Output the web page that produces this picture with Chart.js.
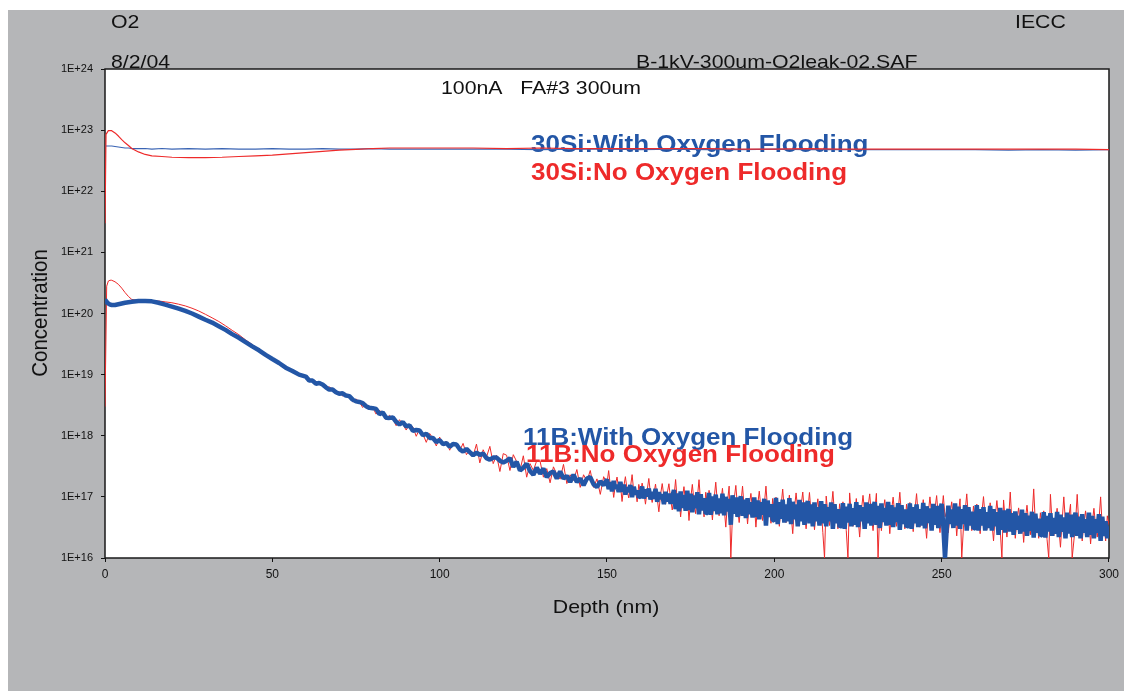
<!DOCTYPE html>
<html>
<head>
<meta charset="utf-8">
<script src="https://cdn.jsdelivr.net/npm/chart.js@4.4.1/dist/chart.umd.min.js"></script>
<style>
html,body{margin:0;padding:0;background:#ffffff;}
canvas{display:block;}
</style>
</head>
<body>
<canvas id="c" width="1124" height="691"></canvas>
<script>
// ---------- DATA ----------
const depthSi = [0, 0.3, 1, 2, 3, 4, 5, 6, 7, 8, 10, 12, 14, 17, 20, 25, 30, 35, 40, 45, 50, 55, 60, 65, 70, 75, 80, 85, 90, 100,
  110, 120, 130, 140, 150, 160, 170, 180, 190, 200, 210, 220, 230, 240, 250, 260, 270, 280, 290, 300];

const si30WithO2 = [5.5e22, 5.5e22, 5.5e22, 5.5e22, 5.4e22, 5.3e22, 5.2e22, 5.1e22, 5.1e22, 5.0e22, 5.0e22, 5.0e22, 4.9e22, 5.0e22, 4.9e22,
  5.0e22, 4.9e22, 5.0e22, 4.9e22, 4.9e22, 5.0e22, 4.9e22, 4.9e22, 5.0e22, 4.9e22, 4.9e22, 5.0e22, 4.9e22, 4.9e22, 4.9e22,
  4.9e22, 4.9e22, 4.8e22, 4.9e22, 4.9e22, 4.8e22, 4.9e22, 4.8e22, 4.8e22, 4.9e22, 4.8e22, 4.8e22, 4.8e22, 4.8e22, 4.8e22,
  4.8e22, 4.7e22, 4.8e22, 4.7e22, 4.8e22];

const si30NoO2 = [3.0e21, 8.5e22, 9.8e22, 9.8e22, 9.0e22, 8.0e22, 7.0e22, 6.2e22, 5.6e22, 5.0e22, 4.4e22, 4.0e22, 3.8e22, 3.7e22, 3.6e22,
  3.55e22, 3.55e22, 3.6e22, 3.7e22, 3.8e22, 3.9e22, 4.1e22, 4.3e22, 4.5e22, 4.7e22, 4.85e22, 5.0e22, 5.1e22, 5.1e22, 5.1e22,
  5.1e22, 5.0e22, 5.1e22, 5.0e22, 5.0e22, 5.0e22, 5.0e22, 5.0e22, 4.9e22, 4.9e22, 5.0e22, 4.9e22, 4.9e22, 4.9e22, 4.9e22,
  4.9e22, 4.9e22, 4.9e22, 4.9e22, 4.8e22];

const depthB = [0, 0.5, 1, 1.5, 2, 3, 4, 5, 6, 7, 8,
  10, 12, 14, 16, 18, 20, 22, 24, 26, 28, 30, 32, 34, 36, 38, 40, 42, 44, 46, 48, 50, 52, 54, 56, 58,
  60, 61, 62, 63, 64, 65, 66, 67, 68, 69, 70, 71, 72, 73, 74, 75, 76, 77, 78, 79,
  80, 81, 82, 83, 84, 85, 86, 87, 88, 89, 90, 91, 92, 93, 94, 95, 96, 97, 98, 99,
  100, 101, 102, 103, 104, 105, 106, 107, 108, 109, 110, 111, 112, 113, 114, 115, 116, 117, 118, 119,
  120, 121, 122, 123, 124, 125, 126, 127, 128, 129, 130, 131, 132, 133, 134, 135, 136, 137, 138, 139,
  140, 141, 142, 143, 144, 145, 146, 147, 148, 149,
  150, 150.5, 151, 151.5, 152, 152.5, 153, 153.5, 154, 154.5, 155, 155.5, 156, 156.5, 157, 157.5, 158, 158.5, 159, 159.5,
  160, 160.5, 161, 161.5, 162, 162.5, 163, 163.5, 164, 164.5, 165, 165.5, 166, 166.5, 167, 167.5, 168, 168.5, 169, 169.5,
  170, 170.5, 171, 171.5, 172, 172.5, 173, 173.5, 174, 174.5, 175, 175.5, 176, 176.5, 177, 177.5, 178, 178.5, 179, 179.5,
  180, 180.5, 181, 181.5, 182, 182.5, 183, 183.5, 184, 184.5, 185, 185.5, 186, 186.5, 187, 187.5, 188, 188.5, 189, 189.5,
  190, 190.5, 191, 191.5, 192, 192.5, 193, 193.5, 194, 194.5, 195, 195.5, 196, 196.5, 197, 197.5, 198, 198.5, 199, 199.5,
  200, 200.5, 201, 201.5, 202, 202.5, 203, 203.5, 204, 204.5, 205, 205.5, 206, 206.5, 207, 207.5, 208, 208.5, 209, 209.5,
  210, 210.5, 211, 211.5, 212, 212.5, 213, 213.5, 214, 214.5, 215, 215.5, 216, 216.5, 217, 217.5, 218, 218.5, 219, 219.5,
  220, 220.5, 221, 221.5, 222, 222.5, 223, 223.5, 224, 224.5, 225, 225.5, 226, 226.5, 227, 227.5, 228, 228.5, 229, 229.5,
  230, 230.5, 231, 231.5, 232, 232.5, 233, 233.5, 234, 234.5, 235, 235.5, 236, 236.5, 237, 237.5, 238, 238.5, 239, 239.5,
  240, 240.5, 241, 241.5, 242, 242.5, 243, 243.5, 244, 244.5, 245, 245.5, 246, 246.5, 247, 247.5, 248, 248.5, 249, 249.5,
  250, 250.5, 251, 251.5, 252, 252.5, 253, 253.5, 254, 254.5, 255, 255.5, 256, 256.5, 257, 257.5, 258, 258.5, 259, 259.5,
  260, 260.5, 261, 261.5, 262, 262.5, 263, 263.5, 264, 264.5, 265, 265.5, 266, 266.5, 267, 267.5, 268, 268.5, 269, 269.5,
  270, 270.5, 271, 271.5, 272, 272.5, 273, 273.5, 274, 274.5, 275, 275.5, 276, 276.5, 277, 277.5, 278, 278.5, 279, 279.5,
  280, 280.5, 281, 281.5, 282, 282.5, 283, 283.5, 284, 284.5, 285, 285.5, 286, 286.5, 287, 287.5, 288, 288.5, 289, 289.5,
  290, 290.5, 291, 291.5, 292, 292.5, 293, 293.5, 294, 294.5, 295, 295.5, 296, 296.5, 297, 297.5, 298, 298.5, 299, 299.5,
  300];

const b11WithO2 = [1.7e20, 1.55e20, 1.45e20, 1.4e20, 1.38e20, 1.38e20, 1.42e20, 1.46e20, 1.5e20, 1.53e20, 1.56e20,
  1.6e20, 1.6e20, 1.58e20, 1.5e20, 1.4e20, 1.3e20, 1.2e20, 1.1e20, 1.0e20, 8.9e19, 7.9e19, 7.1e19, 6.2e19, 5.4e19, 4.6e19,
  4.0e19, 3.4e19, 2.9e19, 2.5e19, 2.1e19, 1.8e19, 1.55e19, 1.3e19, 1.15e19, 1.0e19,
  9.3e18, 8.0e18, 8.0e18, 7.1e18, 7.3e18, 6.9e18, 6.2e18, 5.7e18, 5.7e18, 5.15e18,
  4.85e18, 4.95e18, 4.55e18, 4.45e18, 3.9e18, 3.65e18, 3.57e18, 3.43e18, 3.04e18, 2.86e18,
  2.83e18, 2.75e18, 2.26e18, 2.4e18, 1.97e18, 1.96e18, 1.99e18, 1.69e18, 1.53e18, 1.67e18,
  1.42e18, 1.48e18, 1.21e18, 1.24e18, 1.22e18, 1.02e18, 1.08e18, 9.2e17, 9.2e17, 7.9e17,
  8.5e17, 7.3e17, 7.6e17, 6.6e17, 7.3e17, 7.2e17, 6.0e17, 5.5e17, 6.1e17, 5.4e17,
  4.8e17, 5.3e17, 4.85e17, 5.1e17, 4.3e17, 4.05e17, 4.4e17, 4.4e17, 3.9e17, 3.65e17,
  3.9e17, 4.3e17, 3.1e17, 3.75e17, 2.7e17, 3.0e17, 3.5e17, 2.65e17, 2.3e17, 3.0e17,
  2.4e17, 2.9e17, 2.1e17, 2.45e17, 2.6e17, 2.0e17, 2.6e17, 2.0e17, 2.2e17, 1.75e17,
  2.3e17, 1.75e17, 2.0e17, 1.55e17, 2.0e17, 2.1e17, 1.6e17, 1.45e17, 1.8e17, 1.55e17,
  1.94e17, 1.34e17, 1.74e17, 1.23e17, 1.82e17, 1.35e17, 1.58e17, 1.2e17, 1.76e17, 1.22e17, 1.58e17, 1.09e17, 1.44e17, 1.2e17, 1.56e17, 9.9e16, 1.46e17, 1.09e17, 1.27e17, 9.8e16,
  1.02e17, 1.48e17, 9.4e16, 1.32e17, 1.02e17, 1.37e17, 9.1e16, 1.2e17, 9.3e16, 1.35e17, 8.3e16, 1.19e17, 9.2e16, 1.11e17, 7.6e16, 1.21e17, 8.4e16, 1.13e17, 7.7e16, 1.0e17,
  1.3e17, 6.3e16, 1.14e17, 5.8e16, 1.23e17, 6.6e16, 1.07e17, 5.9e16, 1.26e17, 6.1e16, 1.13e17, 5.6e16, 1.05e17, 6.5e16, 1.19e17, 5.2e16, 1.11e17, 6.0e16, 9.5e16, 5.3e16,
  5.6e16, 1.16e17, 5.1e16, 1.02e17, 5.9e16, 1.09e17, 5.2e16, 9.4e16, 5.4e16, 1.13e17, 5.0e16, 1.0e17, 5.8e16, 9.3e16, 3.5e16, 1.06e17, 5.3e16, 9.8e16, 4.7e16, 8.4e16,
  1.02e17, 4.9e16, 9.0e16, 4.5e16, 9.5e16, 5.2e16, 8.2e16, 4.6e16, 9.8e16, 4.7e16, 8.7e16, 4.3e16, 8.2e16, 5.1e16, 9.3e16, 3.4e16, 8.7e16, 4.7e16, 7.6e16, 4.2e16,
  4.1e16, 9.6e16, 3.6e16, 8.2e16, 4.4e16, 9.0e16, 3.8e16, 7.5e16, 4.0e16, 9.5e16, 3.6e16, 8.3e16, 4.3e16, 7.5e16, 3.3e16, 8.9e16, 4.0e16, 8.1e16, 3.5e16, 6.8e16,
  8.5e16, 3.7e16, 7.5e16, 3.3e16, 8.1e16, 4.0e16, 6.8e16, 3.4e16, 8.5e16, 3.7e16, 7.6e16, 3.3e16, 6.8e16, 4.0e16, 8.1e16, 3.0e16, 7.6e16, 3.7e16, 6.3e16, 3.2e16,
  3.4e16, 7.9e16, 3.0e16, 6.9e16, 3.8e16, 7.7e16, 3.3e16, 6.5e16, 3.5e16, 8.2e16, 3.2e16, 7.3e16, 4.0e16, 6.8e16, 3.0e16, 8.1e16, 3.7e16, 7.7e16, 3.4e16, 6.4e16,
  8.2e16, 3.5e16, 7.1e16, 3.1e16, 7.8e16, 3.9e16, 6.6e16, 3.4e16, 8.3e16, 3.5e16, 7.3e16, 3.2e16, 6.7e16, 3.9e16, 7.9e16, 2.9e16, 7.3e16, 3.6e16, 6.2e16, 3.2e16,
  3.4e16, 7.8e16, 3.0e16, 6.8e16, 3.7e16, 7.5e16, 3.2e16, 6.3e16, 3.4e16, 8.0e16, 3.05e16, 7.0e16, 3.75e16, 6.5e16, 2.8e16, 7.7e16, 3.5e16, 7.1e16, 3.1e16, 6.0e16,
  7.7e16, 3.3e16, 1.0e16, 2.9e16, 7.2e16, 3.6e16, 6.2e16, 3.1e16, 7.8e16, 3.4e16, 6.9e16, 3.0e16, 6.3e16, 3.6e16, 7.3e16, 2.8e16, 6.8e16, 3.4e16, 5.7e16, 3.0e16,
  3.1e16, 7.3e16, 2.8e16, 6.3e16, 3.4e16, 6.8e16, 2.8e16, 5.6e16, 3.1e16, 7.1e16, 2.8e16, 6.3e16, 3.3e16, 5.6e16, 2.4e16, 6.6e16, 2.9e16, 6.0e16, 2.6e16, 5.1e16,
  6.3e16, 2.7e16, 5.4e16, 2.4e16, 5.8e16, 2.9e16, 4.9e16, 2.5e16, 6.2e16, 2.7e16, 5.4e16, 2.3e16, 4.9e16, 2.8e16, 5.7e16, 2.15e16, 5.3e16, 2.6e16, 4.4e16, 2.3e16,
  2.4e16, 5.6e16, 2.15e16, 4.9e16, 2.7e16, 5.4e16, 2.3e16, 4.5e16, 2.5e16, 5.7e16, 2.2e16, 5.1e16, 2.7e16, 4.6e16, 2.1e16, 5.5e16, 2.5e16, 5.1e16, 2.2e16, 4.3e16,
  5.5e16, 2.3e16, 4.75e16, 2.1e16, 5.2e16, 2.6e16, 4.3e16, 2.2e16, 5.5e16, 2.4e16, 4.9e16, 2.1e16, 4.3e16, 2.6e16, 5.2e16, 1.9e16, 4.75e16, 2.3e16, 4.0e16, 2.1e16,
  3.3e16];

const b11NoO2 = [3.0e18, 2.8e20, 3.4e20, 3.5e20, 3.5e20, 3.3e20, 3.0e20, 2.6e20, 2.2e20, 1.9e20, 1.7e20,
  1.62e20, 1.62e20, 1.62e20, 1.6e20, 1.55e20, 1.5e20, 1.42e20, 1.33e20, 1.22e20, 1.1e20, 9.7e19, 8.5e19, 7.4e19, 6.3e19, 5.3e19,
  4.5e19, 3.7e19, 3.1e19, 2.6e19, 2.2e19, 1.85e19, 1.6e19, 1.35e19, 1.18e19, 1.03e19,
  9.6e18, 8.5e18, 7.7e18, 7.8e18, 7.1e18, 6.9e18, 6.0e18, 6.3e18, 5.8e18, 5.1e18,
  5.25e18, 4.45e18, 4.85e18, 4.3e18, 3.6e18, 4.0e18, 3.6e18, 2.9e18, 3.3e18, 2.95e18,
  2.9e18, 2.26e18, 2.64e18, 2.18e18, 1.82e18, 2.16e18, 1.93e18, 1.46e18, 1.83e18, 1.53e18,
  1.24e18, 1.55e18, 1.39e18, 9.8e17, 1.29e18, 1.07e18, 7.8e17, 1.09e18, 9.1e17, 6.8e17,
  9.5e17, 6.9e17, 8.1e17, 5.8e17, 7.9e17, 6.7e17, 5.7e17, 7.5e17, 4.9e17, 5.8e17,
  4.7e17, 7.3e17, 3.6e17, 5.9e17, 4.5e17, 6.7e17, 3.5e17, 4.8e17, 2.6e17, 5.1e17,
  4.8e17, 2.7e17, 4.9e17, 3.8e17, 2.7e17, 4.7e17, 2.1e17, 3.5e17, 2.7e17, 3.9e17,
  3.85e17, 2.1e17, 2.9e17, 1.7e17, 3.1e17, 2.35e17, 1.95e17, 3.4e17, 1.65e17, 2.3e17,
  1.86e17, 2.8e17, 1.43e17, 2.3e17, 1.8e17, 2.7e17, 1.43e17, 1.97e17, 1.1e17, 2.14e17,
  1.66e17, 2.69e17, 1.51e17, 1.73e17, 9.8e16, 1.58e17, 2.11e17, 1.35e17, 1.62e17, 8.4e16, 1.46e17, 2.14e17, 1.32e17, 9.6e16, 1.42e17, 2.31e17, 1.21e17, 1.3e17, 8.3e16, 1.6e17,
  1.17e17, 1.68e17, 1.23e17, 7.6e16, 1.27e17, 2.0e17, 1.11e17, 8.1e16, 1.12e17, 1.62e17, 9.5e16, 5.7e16, 1.08e17, 1.65e17, 1.03e17, 7.6e16, 1.15e17, 1.64e17, 9.2e16, 6.1e16,
  9.6e16, 1.92e17, 8.6e16, 1.05e17, 4.7e16, 9.3e16, 1.47e17, 7.8e16, 1.04e17, 4.1e16, 9.3e16, 1.6e17, 8.4e16, 5.3e16, 9.6e16, 1.91e17, 7.7e16, 8.6e16, 4.7e16, 1.19e17,
  7.7e16, 1.28e17, 8.4e16, 4.2e16, 9.1e16, 1.74e17, 7.8e16, 4.9e16, 8.1e16, 1.38e17, 6.8e16, 3.2e16, 8.3e16, 1.5e17, 1.0e16, 5.1e16, 9.2e16, 1.54e17, 6.8e16, 3.8e16,
  7.5e16, 1.5e17, 6.6e16, 8.1e16, 3.6e16, 7.3e16, 1.14e17, 6.1e16, 8.1e16, 3.2e16, 7.2e16, 1.24e17, 6.6e16, 4.1e16, 7.5e16, 1.5e17, 6.1e16, 6.8e16, 3.7e16, 9.4e16,
  5.9e16, 9.9e16, 6.5e16, 3.3e16, 7.0e16, 1.34e17, 6.0e16, 3.8e16, 6.3e16, 1.07e17, 5.3e16, 2.5e16, 6.4e16, 1.16e17, 6.1e16, 4.0e16, 7.2e16, 1.2e17, 5.4e16, 3.0e16,
  5.9e16, 1.18e17, 5.3e16, 6.5e16, 2.9e16, 5.8e16, 9.3e16, 4.9e16, 6.6e16, 2.6e16, 1.0e16, 1.03e17, 5.3e16, 3.4e16, 6.2e16, 1.23e17, 5.0e16, 5.6e16, 3.0e16, 7.7e16,
  5.0e16, 8.3e16, 5.5e16, 2.8e16, 1.0e16, 1.16e17, 5.2e16, 3.3e16, 5.5e16, 9.4e16, 4.7e16, 2.2e16, 5.9e16, 1.06e17, 5.6e16, 3.6e16, 6.7e16, 1.12e17, 5.0e16, 2.8e16,
  5.7e16, 1.14e17, 1.0e16, 6.2e16, 2.8e16, 5.6e16, 9.0e16, 4.8e16, 6.3e16, 2.5e16, 5.8e16, 9.9e16, 5.2e16, 3.3e16, 5.9e16, 1.19e17, 4.9e16, 5.4e16, 3.0e16, 7.6e16,
  4.9e16, 8.1e16, 5.4e16, 2.7e16, 5.9e16, 1.13e17, 5.0e16, 3.2e16, 5.3e16, 9.0e16, 4.5e16, 2.1e16, 5.5e16, 1.0e17, 5.3e16, 3.4e16, 6.3e16, 1.05e17, 4.7e16, 2.6e16,
  5.3e16, 1.05e17, 4.7e16, 5.8e16, 2.6e16, 5.2e16, 8.3e16, 4.4e16, 5.9e16, 2.3e16, 5.4e16, 9.3e16, 1.0e16, 3.1e16, 5.6e16, 1.12e17, 4.5e16, 5.1e16, 2.8e16, 7.1e16,
  4.5e16, 7.6e16, 4.9e16, 2.5e16, 5.3e16, 1.01e17, 4.6e16, 2.9e16, 4.7e16, 8.0e16, 4.0e16, 1.9e16, 4.8e16, 8.7e16, 4.5e16, 2.9e16, 1.0e16, 8.9e16, 4.0e16, 2.2e16,
  4.3e16, 1.2e17, 3.8e16, 4.7e16, 2.1e16, 4.2e16, 6.6e16, 3.5e16, 4.7e16, 1.8e16, 4.3e16, 7.3e16, 3.8e16, 2.4e16, 4.3e16, 1.35e17, 3.6e16, 4.0e16, 2.1e16, 5.5e16,
  3.5e16, 5.9e16, 3.9e16, 2.0e16, 1.0e16, 1.1e17, 3.7e16, 2.3e16, 3.9e16, 6.5e16, 3.2e16, 1.5e16, 4.0e16, 1.0e17, 3.8e16, 2.5e16, 4.6e16, 7.6e16, 1.0e16, 1.9e16,
  3.8e16, 1.1e17, 3.4e16, 4.2e16, 1.9e16, 3.7e16, 5.9e16, 3.1e16, 4.3e16, 1.7e16, 3.8e16, 6.5e16, 3.4e16, 2.2e16, 4.0e16, 1.0e17, 3.2e16, 3.5e16, 1.9e16, 4.9e16,
  3.5e16];

const seriesLabels = ['30Si:With Oxygen Flooding', '30Si:No Oxygen Flooding', '11B:With Oxygen Flooding', '11B:No Oxygen Flooding'];
const xTickValues = [0, 50, 100, 150, 200, 250, 300];
const yTickValues = [1e16, 1e17, 1e18, 1e19, 1e20, 1e21, 1e22, 1e23, 1e24];
const yTickLabels = ['1E+16', '1E+17', '1E+18', '1E+19', '1E+20', '1E+21', '1E+22', '1E+23', '1E+24'];
const headerLeft = ['O2', '8/2/04'];
const headerRight = ['IECC', 'B-1kV-300um-O2leak-02.SAF'];
const noteText = '100nA   FA#3 300um';
const xTitle = 'Depth (nm)';
const yTitle = 'Concentration';

// ---------- STYLE ----------
const BLUE = '#2356a6';
const BLUE_THIN = '#3a64b4';
const RED = '#ee2a2a';
const GRAY = '#b5b6b8';
const SX = 1.12; // horizontal stretch of the reference text
const FF = '"Liberation Sans", Arial, Helvetica, sans-serif';

function toXY(xs, ys) { return xs.map((x, i) => ({ x: x, y: ys[i] })); }

function sText(ctx, txt, x, y, font, color, align) {
  ctx.save();
  ctx.font = font;
  ctx.fillStyle = color;
  ctx.textBaseline = 'alphabetic';
  ctx.textAlign = align || 'left';
  ctx.translate(x, y);
  ctx.scale(SX, 1);
  ctx.fillText(txt, 0, 0);
  ctx.restore();
}

const decorPlugin = {
  id: 'decor',
  beforeDraw(chart) {
    const ctx = chart.ctx, a = chart.chartArea;
    ctx.save();
    ctx.fillStyle = '#ffffff';
    ctx.fillRect(0, 0, chart.width, chart.height);
    ctx.fillStyle = GRAY;
    ctx.fillRect(8, 10, chart.width - 8, chart.height - 10);
    ctx.fillStyle = '#ffffff';
    ctx.fillRect(a.left, a.top, a.right - a.left, a.bottom - a.top);
    ctx.restore();
    sText(ctx, headerLeft[0], 111, 28, '19px ' + FF, '#111');
    sText(ctx, headerLeft[1], 111, 68, '19px ' + FF, '#111');
    sText(ctx, headerRight[0], 1015, 28, '19px ' + FF, '#111');
    sText(ctx, headerRight[1], 636, 68, '19px ' + FF, '#111');
    sText(ctx, xTitle, 606, 613, '19px ' + FF, '#111', 'center');
    ctx.save();
    ctx.font = '20.5px ' + FF;
    ctx.fillStyle = '#111';
    ctx.textAlign = 'center';
    ctx.textBaseline = 'alphabetic';
    ctx.translate(47, 313);
    ctx.rotate(-Math.PI / 2);
    ctx.scale(1, 1.04);
    ctx.fillText(yTitle, 0, 0);
    ctx.restore();
  },
  beforeDatasetsDraw(chart) {
    const ctx = chart.ctx, a = chart.chartArea;
    ctx.save();
    ctx.strokeStyle = '#1a1a1a';
    ctx.lineWidth = 1.5;
    ctx.strokeRect(a.left, a.top, a.right - a.left, a.bottom - a.top);
    ctx.restore();
    sText(ctx, noteText, 441, 94, '19px ' + FF, '#111');
    sText(ctx, seriesLabels[0], 531, 152, 'bold 23.2px ' + FF, BLUE);
    sText(ctx, seriesLabels[1], 531, 180, 'bold 23.2px ' + FF, RED);
    sText(ctx, seriesLabels[2], 523, 445, 'bold 23.2px ' + FF, BLUE);
    sText(ctx, seriesLabels[3], 526, 462, 'bold 23.2px ' + FF, RED);
  }
};

new Chart(document.getElementById('c'), {
  type: 'line',
  data: {
    datasets: [
      { label: seriesLabels[2], data: toXY(depthB, b11WithO2), borderColor: BLUE, borderWidth: 4.5, order: 0 },
      { label: seriesLabels[3], data: toXY(depthB, b11NoO2), borderColor: RED, borderWidth: 1, order: 1 },
      { label: seriesLabels[1], data: toXY(depthSi, si30NoO2), borderColor: RED, borderWidth: 1.2, order: 2 },
      { label: seriesLabels[0], data: toXY(depthSi, si30WithO2), borderColor: BLUE_THIN, borderWidth: 1.2, order: 3 }
    ]
  },
  options: {
    responsive: false,
    animation: false,
    devicePixelRatio: 1,
    layout: { padding: { left: 0, top: 69, right: 15, bottom: 0 } },
    elements: { point: { radius: 0 }, line: { tension: 0, fill: false, borderJoinStyle: 'bevel' } },
    plugins: { legend: { display: false }, tooltip: { enabled: false }, title: { display: false } },
    scales: {
      x: {
        type: 'linear', min: 0, max: 300,
        afterBuildTicks: (s) => { s.ticks = xTickValues.map(v => ({ value: v })); },
        afterFit: (s) => { s.height = 691 - 558; },
        grid: { drawOnChartArea: false, drawTicks: true, tickLength: 4, color: '#111', lineWidth: 1 },
        border: { display: false },
        ticks: { color: '#111', font: { family: FF, size: 12 }, padding: 5, maxRotation: 0, autoSkip: false }
      },
      y: {
        type: 'logarithmic', min: 1e16, max: 1e24,
        afterBuildTicks: (s) => { s.ticks = yTickValues.map(v => ({ value: v })); },
        afterFit: (s) => { s.width = 105; },
        grid: { drawOnChartArea: false, drawTicks: true, tickLength: 4, color: '#111', lineWidth: 1 },
        border: { display: false },
        ticks: {
          color: '#111', font: { family: FF, size: 11 }, padding: 8, autoSkip: false,
          callback: (v) => { const i = yTickValues.indexOf(v); return i >= 0 ? yTickLabels[i] : ''; }
        }
      }
    }
  },
  plugins: [decorPlugin]
});
</script>
</body>
</html>
